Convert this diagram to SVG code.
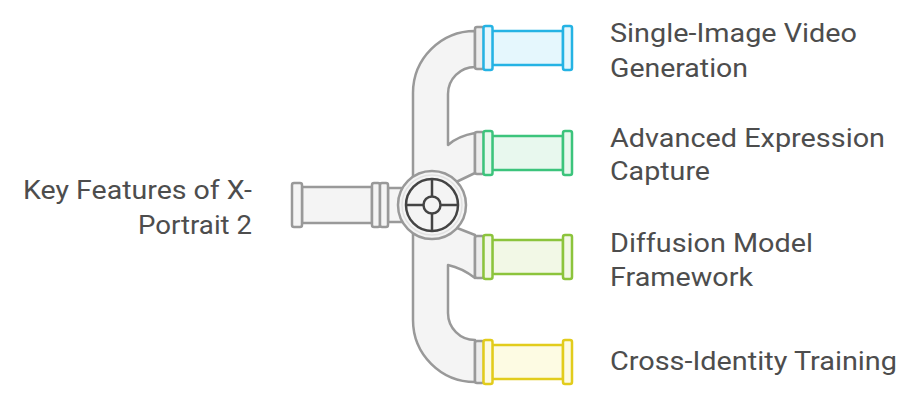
<svg xmlns="http://www.w3.org/2000/svg" width="916" height="400" viewBox="0 0 916 400">
  <style>
    .lbl { font-family: Roboto, "Liberation Sans", sans-serif; font-size: 26px; fill: #4d4d4d; }
    .gray { fill: #f4f4f4; stroke: #999999; stroke-width: 2.5; stroke-linejoin: round; }
    .gflange { fill: #ececec; stroke: #999999; stroke-width: 2.5; }
    .dark { fill: none; stroke: #444444; stroke-width: 2.5; }
    .blue { fill: #e5f7fd; stroke: #25b3e4; stroke-width: 2.5; }
    .green { fill: #e8f8ee; stroke: #3cc47c; stroke-width: 2.5; }
    .lime { fill: #f2f8e6; stroke: #8cc43c; stroke-width: 2.5; }
    .yellow { fill: #fdfbe3; stroke: #e2cc1c; stroke-width: 2.5; }
  </style>
  <rect width="916" height="400" fill="#ffffff"/>

  <g id="connectors">
    <path class="gray" d="M 475 31 A 62 62 0 0 0 413 93 L 413 320 A 62 62 0 0 0 475 382 L 475 340 A 27 27 0 0 1 448 313 L 448 265 Q 462 268 475 278 L 475 235 L 452 226 L 452 184 L 475 173 L 475 133 Q 458 136 448 145 L 448 94 A 27 27 0 0 1 475 67 Z"/>
    <rect class="gflange" x="475" y="27" width="9" height="42" rx="2"/>
    <rect class="gflange" x="475" y="132" width="9" height="42" rx="2"/>
    <rect class="gflange" x="475" y="236" width="9" height="42" rx="2"/>
    <rect class="gflange" x="475" y="341" width="9" height="42" rx="2"/>
  </g>

  <g id="input-pipe">
    <rect class="gray" x="388" y="188" width="14" height="34"/>
    <rect class="gray" x="302" y="187" width="70" height="36"/>
    <rect class="gray" x="292" y="183" width="10" height="44" rx="2"/>
    <rect class="gray" x="372" y="183" width="8" height="44" rx="2"/>
    <rect class="gray" x="380" y="183" width="8" height="44" rx="2"/>
  </g>

  <g id="hub">
    <circle class="gray" cx="432" cy="205" r="34"/>
    <circle fill="none" stroke="#e2e2e2" stroke-width="1.5" cx="432" cy="205" r="30"/>
    <circle class="dark" cx="432" cy="205" r="26"/>
    <line class="dark" x1="406" y1="205" x2="423.5" y2="205"/>
    <line class="dark" x1="440.5" y1="205" x2="458" y2="205"/>
    <line class="dark" x1="432" y1="179" x2="432" y2="196.5"/>
    <line class="dark" x1="432" y1="213.5" x2="432" y2="231"/>
    <circle class="dark" style="fill:#f4f4f4" cx="432" cy="205" r="8.5"/>
  </g>

  <g id="pipe-1">
    <rect class="blue" x="492" y="31" width="71" height="34"/>
    <rect class="blue" x="483.5" y="26" width="9" height="44" rx="2"/>
    <rect class="blue" x="563" y="26" width="9" height="44" rx="2"/>
  </g>
  <g id="pipe-2">
    <rect class="green" x="492" y="136" width="71" height="34"/>
    <rect class="green" x="483.5" y="131" width="9" height="44" rx="2"/>
    <rect class="green" x="563" y="131" width="9" height="44" rx="2"/>
  </g>
  <g id="pipe-3">
    <rect class="lime" x="492" y="240" width="71" height="34"/>
    <rect class="lime" x="483.5" y="235" width="9" height="44" rx="2"/>
    <rect class="lime" x="563" y="235" width="9" height="44" rx="2"/>
  </g>
  <g id="pipe-4">
    <rect class="yellow" x="492" y="345" width="71" height="34"/>
    <rect class="yellow" x="483.5" y="340" width="9" height="44" rx="2"/>
    <rect class="yellow" x="563" y="340" width="9" height="44" rx="2"/>
  </g>

  <g id="label-main">
    <text class="lbl" x="23" y="198.5" textLength="229" lengthAdjust="spacingAndGlyphs">Key Features of X-</text>
    <text class="lbl" x="138" y="233.5" textLength="114" lengthAdjust="spacingAndGlyphs">Portrait 2</text>
  </g>
  <g id="label-1">
    <text class="lbl" x="610" y="41.5" textLength="247" lengthAdjust="spacingAndGlyphs">Single-Image Video</text>
    <text class="lbl" x="610" y="76.5" textLength="138" lengthAdjust="spacingAndGlyphs">Generation</text>
  </g>
  <g id="label-2">
    <text class="lbl" x="610" y="146.5" textLength="275" lengthAdjust="spacingAndGlyphs">Advanced Expression</text>
    <text class="lbl" x="610" y="180" textLength="100" lengthAdjust="spacingAndGlyphs">Capture</text>
  </g>
  <g id="label-3">
    <text class="lbl" x="610" y="251.5" textLength="203" lengthAdjust="spacingAndGlyphs">Diffusion Model</text>
    <text class="lbl" x="610" y="285.5" textLength="143" lengthAdjust="spacingAndGlyphs">Framework</text>
  </g>
  <g id="label-4">
    <text class="lbl" x="610" y="370" textLength="287" lengthAdjust="spacingAndGlyphs">Cross-Identity Training</text>
  </g>
</svg>
